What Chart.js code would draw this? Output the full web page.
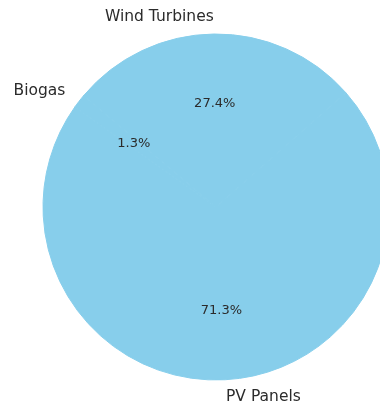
<!DOCTYPE html>
<html>
<head>
<meta charset="utf-8">
<script src="https://cdn.jsdelivr.net/npm/chart.js@4/dist/chart.umd.min.js"></script>
<style>
    html, body { margin: 0; padding: 0; background: #fff; }
    #wrap { width: 380px; height: 408px; }
</style>
</head>
<body>
<div id="wrap"><canvas id="pieChart" width="380" height="408"></canvas></div>
<script>
// energy sources share (clockwise order as drawn)
var labels = ['Wind Turbines', 'PV Panels', 'Biogas'];
var shares = [27.4, 71.3, 1.3];
var sliceColor = '#87CEEB';

// outside labels + percentages, like matplotlib autopct
var pieLabels = {
    id: 'pieLabels',
    afterDatasetsDraw: function(chart) {
        var c = chart.ctx;
        var meta = chart.getDatasetMeta(0);
        var total = shares.reduce(function(a, b) { return a + b; }, 0);
        c.save();
        c.textBaseline = 'middle';
        c.fillStyle = '#2b2b2b';
        meta.data.forEach(function(arc, i) {
            var p = arc.getProps(['x', 'y', 'startAngle', 'endAngle', 'outerRadius'], true);
            var mid = (p.startAngle + p.endAngle) / 2;
            var cx = Math.cos(mid), cy = Math.sin(mid);
            var r = 173;

            // category label at 1.1 r
            c.font = '15.5px "DejaVu Sans"';
            c.textAlign = cx > 0 ? 'left' : 'right';
            c.fillText(labels[i], p.x + cx * r * 1.1, p.y + cy * r * 1.1);

            // percentage at 0.6 r
            c.font = '13px "DejaVu Sans"';
            c.textAlign = 'center';
            var pct = (shares[i] / total * 100).toFixed(1) + '%';
            c.fillText(pct, p.x + cx * r * 0.6, p.y + cy * r * 0.6);
        });
        c.restore();
    }
};

var ctx = document.getElementById('pieChart').getContext('2d');
var pieChart = new Chart(ctx, {
    type: 'pie',
    data: {
        labels: labels,
        datasets: [{
            data: shares,
            backgroundColor: sliceColor,
            borderColor: sliceColor,
            borderWidth: 1,
            clip: false
        }]
    },
    options: {
        responsive: false,
        animation: false,
        rotation: -50,
        radius: 173,
        layout: {
            padding: { left: 52, top: 6, right: 0, bottom: 0 }
        },
        plugins: {
            legend: { display: false },
            tooltip: { enabled: false }
        }
    },
    plugins: [pieLabels]
});
</script>
</body>
</html>
